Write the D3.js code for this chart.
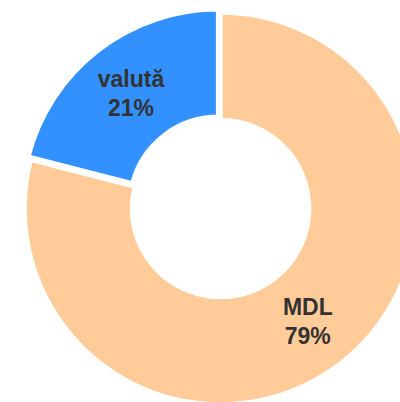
<!DOCTYPE html>
<html lang="ro">
<head>
    <meta charset="UTF-8">
    <title>MDL / valută</title>
    <script src="https://d3js.org/d3.v7.min.js"></script>
    <style>
        body { margin: 0; background: #fff; font-family: "Liberation Sans", Arial, sans-serif; }
        svg { display: block; }
        .label { fill: #333; font-size: 23px; font-weight: bold; }
    </style>
</head>
<body>
    <svg></svg>
    <script>
        const width = 400, height = 402;

        // data
        const categories = ["MDL", "valută"];
        const shares = [79, 21];
        const colors = ["#ffcc99", "#3291ff"];
        const offsets = [0, 4]; // pulled-out slice

        const cx = 220.6, cy = 208.5;
        const outerR = 196, innerR = 88.5;

        const svg = d3.select("svg").attr("width", width).attr("height", height);

        const data = categories.map((c, i) => ({ name: c, value: shares[i], color: colors[i], offset: offsets[i] }));
        const total = d3.sum(shares);

        const pie = d3.pie().sort(null).value(d => d.value);
        const arc = d3.arc().innerRadius(innerR).outerRadius(outerR);
        const labelArc = d3.arc().innerRadius((innerR + outerR) / 2).outerRadius((innerR + outerR) / 2);

        const g = svg.append("g").attr("transform", `translate(${cx},${cy})`);

        const slices = g.selectAll(".slice")
            .data(pie(data))
            .enter().append("g")
            .attr("class", "slice")
            .attr("transform", d => {
                const mid = (d.startAngle + d.endAngle) / 2;
                const o = d.data.offset;
                return `translate(${Math.sin(mid) * o},${-Math.cos(mid) * o})`;
            });

        slices.append("path")
            .attr("d", arc)
            .attr("fill", d => d.data.color)
            .attr("stroke", "#fff")
            .attr("stroke-width", 4.5)
            .attr("stroke-linejoin", "miter");

        const text = slices.append("text")
            .attr("class", "label")
            .attr("text-anchor", "middle")
            .attr("transform", d => `translate(${labelArc.centroid(d)})`);

        text.append("tspan")
            .attr("x", 0)
            .attr("y", -5.5)
            .text(d => d.data.name);

        text.append("tspan")
            .attr("x", 0)
            .attr("y", 23)
            .text(d => Math.round(d.data.value / total * 100) + "%");
    </script>
</body>
</html>
